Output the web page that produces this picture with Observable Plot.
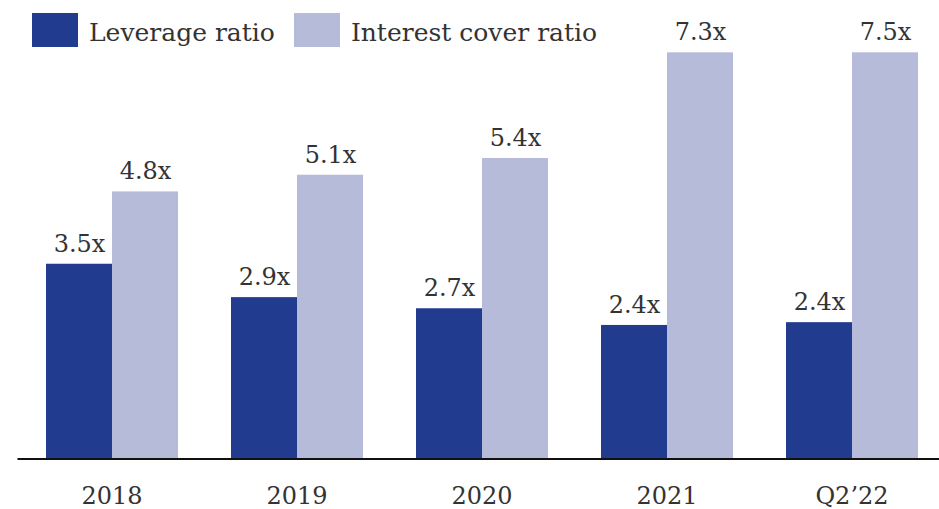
<!DOCTYPE html>
<html><head><meta charset="utf-8">
<script src="https://cdn.jsdelivr.net/npm/d3@7"></script>
<script src="https://cdn.jsdelivr.net/npm/@observablehq/plot@0.6"></script>
<style>
body{margin:0;background:#fff;}
#wrap{position:relative;width:939px;height:509px;font-family:"DejaVu Serif",serif;color:#333;}
#legend{position:absolute;top:13px;left:32px;display:flex;align-items:center;height:34px;font-size:25px;padding-top:4px;box-sizing:border-box;}
.sw{display:inline-block;width:46px;height:34px;margin-right:11px;position:relative;top:-2px;}
.item{display:flex;align-items:center;margin-right:19px;}
</style>
</head><body>
<div id="wrap"><div id="chart"></div><div id="legend"></div></div>
<script>
const categories = ["2018", "2019", "2020", "2021", "Q2’22"];
const seriesNames = ["Leverage ratio", "Interest cover ratio"];
const seriesColors = ["#213b8f", "#b7bbda"];
const leverage = [3.5, 2.9, 2.7, 2.4, 2.45];
const interestCover = [4.8, 5.1, 5.4, 7.3, 7.5];
const leverageLabels = ["3.5x", "2.9x", "2.7x", "2.4x", "2.4x"];
const interestLabels = ["4.8x", "5.1x", "5.4x", "7.3x", "7.5x"];

const rows = [];
categories.forEach((c, i) => {
  rows.push({cat: c, series: seriesNames[0], value: leverage[i], label: leverageLabels[i]});
  rows.push({cat: c, series: seriesNames[1], value: interestCover[i], label: interestLabels[i]});
});

const chart = Plot.plot({
  width: 939,
  height: 509,
  marginTop: 52.3,
  marginBottom: 50.5,
  marginLeft: 19,
  marginRight: 0,
  style: {fontFamily: "DejaVu Serif, serif", fontSize: "24px", color: "#333", background: "transparent"},
  fx: {domain: categories, range: [18, 944], paddingInner: 0.282, paddingOuter: 0.142, label: null, axis: "bottom", tickSize: 0, tickPadding: 28},
  x: {domain: seriesNames, padding: 0, axis: null},
  y: {domain: [0, 7.3], clamp: true, axis: null},
  color: {domain: seriesNames, range: seriesColors},
  marks: [
    Plot.barY(rows, {fx: "cat", x: "series", y: "value", fill: "series"}),
    Plot.text(rows, {fx: "cat", x: "series", y: "value", text: "label", dy: -12.5, lineAnchor: "bottom", fontSize: 24, fill: "#333"}),
    Plot.frame({anchor: "bottom", facet: "super", stroke: "#111", strokeWidth: 2, insetLeft: -27, insetRight: -22})
  ]
});
document.getElementById("chart").appendChild(chart);

const legend = document.getElementById("legend");
seriesNames.forEach((s, i) => {
  const item = document.createElement("span");
  item.className = "item";
  const sw = document.createElement("span");
  sw.className = "sw";
  sw.style.background = seriesColors[i];
  const t = document.createElement("span");
  t.textContent = s;
  item.appendChild(sw);
  item.appendChild(t);
  legend.appendChild(item);
});
</script>
</body></html>
